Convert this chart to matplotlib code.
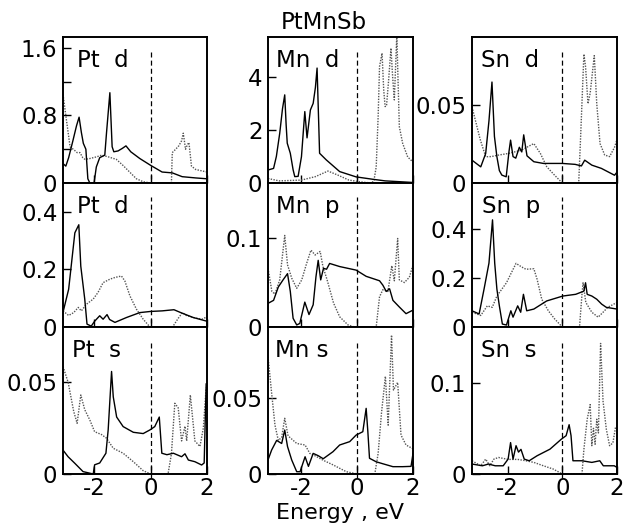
import matplotlib
matplotlib.use("Agg")
import matplotlib.pyplot as plt

plt.rcParams['font.family'] = ['DejaVu Sans']
plt.rcParams['axes.unicode_minus'] = False

# ---------------- data ----------------
title = "PtMnSb"
xlabel = "Energy , eV"
panel_labels = [["Pt  d", "Mn  d", "Sn  d"],
                ["Pt  d", "Mn  p", "Sn  p"],
                ["Pt  s", "Mn s", "Sn  s"]]

# Pt d (top)
pt_d1_solid_e = [-3.1, -3.0, -2.9, -2.75, -2.62, -2.53, -2.45, -2.38, -2.29, -2.22, -2.15, -2.0, -1.92, -1.8, -1.62, -1.56, -1.44, -1.36, -1.3, -1.15, -1.0, -0.87, -0.7, -0.38, 0.0, 0.41, 0.77, 1.12, 1.6, 2.0]
pt_d1_solid_dos = [0.23, 0.2, 0.3, 0.5, 0.68, 0.78, 0.6, 0.47, 0.4, 0.05, 0.0, 0.0, 0.19, 0.3, 0.33, 0.59, 1.07, 0.43, 0.37, 0.38, 0.41, 0.44, 0.37, 0.29, 0.21, 0.13, 0.12, 0.075, 0.06, 0.05]
pt_d1_dot_e = [-3.1, -3.0, -2.85, -2.7, -2.6, -2.5, -2.4, -2.32, -2.15, -1.91, -1.73, -1.5, -1.21, -0.98, -0.74, -0.5, -0.26, 0.0, 0.74, 0.77, 0.89, 1.0, 1.1, 1.16, 1.24, 1.3, 1.36, 1.45, 1.6, 2.0]
pt_d1_dot_dos = [1.05, 0.8, 0.43, 0.39, 0.36, 0.36, 0.3, 0.28, 0.29, 0.31, 0.33, 0.31, 0.28, 0.21, 0.13, 0.05, 0.015, 0.0, 0.0, 0.36, 0.4, 0.44, 0.5, 0.59, 0.4, 0.45, 0.48, 0.2, 0.16, 0.13]

# Mn d
mn_d_solid_e = [-3.2, -3.0, -2.9, -2.78, -2.68, -2.6, -2.55, -2.51, -2.4, -2.3, -2.24, -2.12, -2.0, -1.88, -1.8, -1.68, -1.58, -1.5, -1.44, -1.38, -1.35, -1.11, -0.63, -0.04, 0.56, 1.0, 2.0]
mn_d_solid_dos = [0.49, 0.55, 1.0, 1.87, 2.8, 3.32, 2.2, 1.5, 1.12, 0.5, 0.24, 0.25, 0.99, 2.69, 1.7, 2.75, 3.0, 3.6, 4.33, 2.2, 1.12, 0.87, 0.43, 0.23, 0.14, 0.08, 0.02]
mn_d_dot_e = [-3.2, -2.8, -2.0, -1.5, -1.05, -0.7, -0.3, 0.2, 0.52, 0.6, 0.68, 0.75, 0.8, 0.89, 0.95, 1.0, 1.05, 1.12, 1.21, 1.27, 1.33, 1.38, 1.42, 1.46, 1.51, 1.63, 1.81, 2.0]
mn_d_dot_dos = [0.17, 0.08, 0.11, 0.24, 0.45, 0.3, 0.11, 0.03, 0.0, 0.1, 0.6, 2.5, 4.39, 4.89, 3.5, 2.88, 2.9, 3.8, 5.08, 4.0, 3.13, 4.5, 5.6, 4.0, 2.12, 1.49, 0.98, 0.79]

# Sn d
sn_d_solid_e = [-3.3, -3.1, -2.98, -2.8, -2.68, -2.57, -2.48, -2.39, -2.3, -2.21, -2.05, -1.95, -1.89, -1.8, -1.7, -1.57, -1.48, -1.41, -1.29, -1.04, -0.69, 0.0, 0.47, 0.7, 0.82, 1.08, 1.43, 1.91, 2.0]
sn_d_solid_dos = [0.0147, 0.012, 0.0104, 0.019, 0.04, 0.065, 0.03, 0.0169, 0.008, 0.0051, 0.004, 0.02, 0.0276, 0.017, 0.016, 0.023, 0.02, 0.031, 0.0175, 0.0137, 0.0126, 0.0126, 0.012, 0.011, 0.0147, 0.0115, 0.0094, 0.005, 0.007]
sn_d_dot_e = [-3.3, -3.0, -2.8, -2.6, -2.32, -1.98, -1.51, -1.04, -0.8, -0.57, -0.28, 0.0, 0.6, 0.67, 0.79, 0.85, 0.94, 1.02, 1.17, 1.26, 1.38, 1.55, 1.73, 1.91, 2.0]
sn_d_dot_dos = [0.049, 0.028, 0.0169, 0.017, 0.018, 0.019, 0.021, 0.0254, 0.019, 0.0105, 0.005, 0.0, 0.0, 0.0297, 0.083, 0.075, 0.051, 0.058, 0.082, 0.051, 0.0254, 0.018, 0.017, 0.023, 0.028]

# Pt d (middle)
pt_d2_solid_e = [-3.1, -2.9, -2.68, -2.54, -2.47, -2.33, -2.25, -2.1, -1.98, -1.8, -1.68, -1.54, -1.45, -1.26, -0.85, -0.38, 0.0, 0.41, 0.83, 1.07, 1.51, 2.0]
pt_d2_solid_dos = [0.051, 0.131, 0.327, 0.355, 0.211, 0.097, 0.01, 0.003, 0.02, 0.039, 0.027, 0.043, 0.026, 0.016, 0.033, 0.05, 0.054, 0.056, 0.06, 0.05, 0.033, 0.02]
pt_d2_dot_e = [-3.1, -2.9, -2.72, -2.56, -2.45, -2.27, -2.03, -1.86, -1.68, -1.44, -1.26, -1.03, -0.91, -0.73, -0.5, -0.26, -0.02, 0.78, 0.98, 1.13, 1.27, 1.51, 1.81, 2.0]
pt_d2_dot_dos = [0.056, 0.04, 0.05, 0.068, 0.056, 0.079, 0.097, 0.12, 0.154, 0.166, 0.172, 0.177, 0.16, 0.108, 0.062, 0.027, 0.0, 0.0, 0.03, 0.05, 0.04, 0.033, 0.027, 0.035]

# Mn p
mn_p_solid_e = [-3.2, -3.0, -2.83, -2.66, -2.5, -2.4, -2.3, -2.17, -2.06, -1.88, -1.73, -1.58, -1.48, -1.4, -1.31, -1.21, -1.1, -0.99, -0.63, -0.04, 0.32, 0.8, 0.92, 1.04, 1.16, 1.28, 1.51, 1.75, 2.0]
mn_p_solid_dos = [0.0266, 0.03, 0.045, 0.053, 0.06, 0.04, 0.0098, 0.0023, 0.004, 0.028, 0.014, 0.025, 0.0565, 0.075, 0.053, 0.066, 0.065, 0.0715, 0.068, 0.064, 0.057, 0.052, 0.047, 0.04, 0.043, 0.03, 0.0225, 0.015, 0.019]
mn_p_dot_e = [-3.2, -3.06, -2.95, -2.78, -2.6, -2.5, -2.35, -2.17, -1.99, -1.83, -1.66, -1.51, -1.33, -1.23, -1.08, -0.85, -0.63, -0.33, -0.1, 0.68, 0.8, 0.92, 1.1, 1.24, 1.33, 1.45, 1.51, 1.69, 1.87, 2.0]
mn_p_dot_dos = [0.066, 0.04, 0.037, 0.053, 0.103, 0.07, 0.055, 0.0435, 0.053, 0.07, 0.0865, 0.081, 0.085, 0.068, 0.053, 0.027, 0.0115, 0.0023, 0.0, 0.0, 0.034, 0.042, 0.04, 0.069, 0.052, 0.0996, 0.053, 0.05, 0.056, 0.07]

# Sn p
sn_p_solid_e = [-3.3, -3.04, -2.86, -2.68, -2.55, -2.47, -2.39, -2.3, -2.19, -2.04, -1.88, -1.8, -1.63, -1.52, -1.42, -1.3, -1.04, -0.57, 0.02, 0.49, 0.79, 0.85, 0.91, 1.08, 1.26, 1.44, 1.61, 2.0]
sn_p_solid_dos = [0.066, 0.053, 0.154, 0.26, 0.436, 0.26, 0.154, 0.086, 0.012, 0.008, 0.066, 0.04, 0.086, 0.06, 0.133, 0.066, 0.073, 0.106, 0.126, 0.133, 0.146, 0.18, 0.133, 0.126, 0.113, 0.093, 0.08, 0.073]
sn_p_dot_e = [-3.3, -2.98, -2.74, -2.56, -2.39, -2.21, -2.04, -1.86, -1.69, -1.51, -1.33, -1.04, -0.92, -0.75, -0.51, -0.28, 0.0, 0.63, 0.72, 0.76, 0.86, 1.08, 1.31, 1.49, 1.66, 2.0]
sn_p_dot_dos = [0.06, 0.047, 0.086, 0.08, 0.126, 0.154, 0.18, 0.221, 0.259, 0.246, 0.235, 0.237, 0.194, 0.113, 0.066, 0.033, 0.0, 0.0, 0.133, 0.18, 0.1, 0.06, 0.04, 0.06, 0.08, 0.1]

# Pt s
pt_s_solid_e = [-3.1, -2.92, -2.68, -2.39, -2.03, -1.98, -1.8, -1.58, -1.5, -1.38, -1.32, -1.2, -0.97, -0.61, -0.26, -0.02, 0.15, 0.31, 0.4, 0.58, 0.81, 1.1, 1.22, 1.34, 1.57, 1.81, 1.9, 1.97]
pt_s_solid_dos = [0.013, 0.0094, 0.0058, 0.0013, 0.0, 0.005, 0.006, 0.0113, 0.024, 0.0558, 0.042, 0.031, 0.0258, 0.0227, 0.022, 0.024, 0.0258, 0.031, 0.0113, 0.0105, 0.0113, 0.0094, 0.011, 0.0076, 0.0067, 0.0049, 0.006, 0.049]
pt_s_dot_e = [-3.1, -2.92, -2.72, -2.6, -2.47, -2.33, -2.15, -1.98, -1.74, -1.56, -1.32, -0.97, -0.61, -0.26, 0.0, 0.62, 0.74, 0.86, 0.98, 1.1, 1.22, 1.28, 1.41, 1.57, 1.75, 1.87, 1.97]
pt_s_dot_dos = [0.0585, 0.05, 0.034, 0.0276, 0.043, 0.035, 0.0294, 0.023, 0.0215, 0.0195, 0.014, 0.0113, 0.0067, 0.0018, 0.0, 0.0, 0.011, 0.0385, 0.036, 0.018, 0.026, 0.018, 0.043, 0.018, 0.015, 0.025, 0.047]

# Mn s
mn_s_solid_e = [-3.2, -3.07, -2.89, -2.71, -2.6, -2.5, -2.35, -2.17, -2.05, -1.87, -1.75, -1.58, -1.4, -1.22, -0.87, -0.63, -0.27, -0.04, 0.2, 0.32, 0.38, 0.44, 0.68, 0.92, 1.28, 1.63, 1.93, 2.0]
mn_s_solid_dos = [0.0092, 0.0157, 0.022, 0.02, 0.0288, 0.018, 0.0092, 0.0015, 0.0015, 0.0113, 0.005, 0.0135, 0.012, 0.01, 0.0146, 0.019, 0.0212, 0.0255, 0.0277, 0.043, 0.028, 0.0103, 0.008, 0.0067, 0.0048, 0.0048, 0.005, 0.0135]
mn_s_dot_e = [-3.2, -3.07, -2.95, -2.83, -2.71, -2.6, -2.48, -2.17, -1.87, -1.7, -1.52, -1.22, -0.87, -0.39, 0.0, 0.63, 0.75, 0.87, 1.01, 1.11, 1.23, 1.3, 1.45, 1.57, 1.75, 2.0]
mn_s_dot_dos = [0.077, 0.053, 0.032, 0.022, 0.024, 0.0365, 0.025, 0.02, 0.019, 0.0135, 0.012, 0.009, 0.006, 0.0015, 0.0, 0.0, 0.0135, 0.04, 0.064, 0.032, 0.091, 0.055, 0.06, 0.0255, 0.019, 0.0165]

# Sn s
sn_s_solid_e = [-3.3, -2.92, -2.7, -2.45, -2.16, -1.98, -1.89, -1.8, -1.69, -1.6, -1.51, -1.39, -1.21, -0.92, -0.45, -0.04, 0.14, 0.25, 0.32, 0.39, 0.72, 1.08, 1.37, 1.5, 1.9, 2.0]
sn_s_solid_dos = [0.0109, 0.009, 0.0109, 0.009, 0.009, 0.0163, 0.0344, 0.0163, 0.031, 0.024, 0.027, 0.0163, 0.0145, 0.02, 0.0272, 0.038, 0.042, 0.054, 0.042, 0.0145, 0.0145, 0.0127, 0.0145, 0.009, 0.009, 0.0072]
sn_s_dot_e = [-3.3, -2.98, -2.8, -2.65, -2.5, -2.33, -1.98, -1.63, -1.33, -1.04, -0.69, -0.33, 0.0, 0.72, 0.79, 0.91, 1.02, 1.08, 1.14, 1.2, 1.26, 1.32, 1.4, 1.49, 1.61, 1.73, 1.85, 1.95]
sn_s_dot_dos = [0.0145, 0.009, 0.0163, 0.009, 0.0163, 0.0181, 0.016, 0.016, 0.0145, 0.0127, 0.009, 0.0054, 0.0, 0.0, 0.027, 0.06, 0.076, 0.031, 0.05, 0.0326, 0.06, 0.045, 0.143, 0.0797, 0.049, 0.031, 0.034, 0.052]

# axis ranges and ticks
col_xlim = [(-3.1, 2.0), (-3.2, 2.0), (-3.3, 2.0)]
xticks = [-2, 0, 2]
ylims = [[1.73, 5.5, 0.094], [0.5, 0.162, 0.586], [0.080, 0.0963, 0.161]]
yticks = [[[0, 0.4, 0.8, 1.2, 1.6], [0, 2, 4], [0, 0.05]],
          [[0, 0.2, 0.4], [0, 0.1], [0, 0.2, 0.4]],
          [[0, 0.05], [0, 0.05], [0, 0.1]]]
yticklabels = [[["0", "", "0.8", "", "1.6"], ["0", "2", "4"], ["0", "0.05"]],
               [["0", "0.2", "0.4"], ["0", "0.1"], ["0", "0.2", "0.4"]],
               [["0", "0.05"], ["0", "0.05"], ["0", "0.1"]]]

curves = [
    [(pt_d1_solid_e, pt_d1_solid_dos, pt_d1_dot_e, pt_d1_dot_dos),
     (mn_d_solid_e, mn_d_solid_dos, mn_d_dot_e, mn_d_dot_dos),
     (sn_d_solid_e, sn_d_solid_dos, sn_d_dot_e, sn_d_dot_dos)],
    [(pt_d2_solid_e, pt_d2_solid_dos, pt_d2_dot_e, pt_d2_dot_dos),
     (mn_p_solid_e, mn_p_solid_dos, mn_p_dot_e, mn_p_dot_dos),
     (sn_p_solid_e, sn_p_solid_dos, sn_p_dot_e, sn_p_dot_dos)],
    [(pt_s_solid_e, pt_s_solid_dos, pt_s_dot_e, pt_s_dot_dos),
     (mn_s_solid_e, mn_s_solid_dos, mn_s_dot_e, mn_s_dot_dos),
     (sn_s_solid_e, sn_s_solid_dos, sn_s_dot_e, sn_s_dot_dos)],
]

# ---------------- layout (pixels) ----------------
W, H = 625, 526
col_px = [(63, 207), (268, 413), (472, 617)]
row_px = [(37, 183), (183, 327), (327, 474)]
label_dx_px = [[14, 8, 9], [14, 8, 10], [9, 7, 9]]

FS = 16.5
fig = plt.figure(figsize=(W / 100, H / 100), dpi=100)

for r in range(3):
    for c in range(3):
        x0, x1 = col_px[c]
        y0, y1 = row_px[r]
        ax = fig.add_axes([x0 / W, 1 - y1 / H, (x1 - x0) / W, (y1 - y0) / H])
        se, sd, de, dd = curves[r][c]
        ax.plot(de, dd, color='#555555', lw=1.0, ls=(0, (1, 1)))
        ax.plot(se, sd, color='black', lw=1.0)
        ax.axvline(0, ymin=-0.03, ymax=0.9, color='black', lw=0.9,
                   ls=(0, (4, 2.5)), clip_on=False)
        ax.set_xlim(*col_xlim[c])
        ax.set_ylim(0, ylims[r][c])
        ax.set_xticks(xticks)
        ax.set_yticks(yticks[r][c])
        ax.set_yticklabels(yticklabels[r][c])
        ax.tick_params(direction='in', length=6, width=1.0, labelsize=FS,
                       pad=4, top=False, right=False)
        ax.tick_params(axis='x', pad=2.5)
        if r < 2:
            ax.tick_params(axis='x', labelbottom=False)
        for sp in ax.spines.values():
            sp.set_linewidth(1.4)
        ax.annotate(panel_labels[r][c], xy=(0, 1), xycoords='axes fraction',
                    xytext=(label_dx_px[r][c] * 0.72, -30 * 0.72),
                    textcoords='offset points', ha='left', va='baseline',
                    fontsize=FS)

fig.text(323.5 / W, 1 - 29 / H, title, ha='center', va='baseline', fontsize=FS)
fig.text(340 / W, 1 - 519 / H, xlabel, ha='center', va='baseline', fontsize=16)

fig.savefig("out.png", dpi=100)
